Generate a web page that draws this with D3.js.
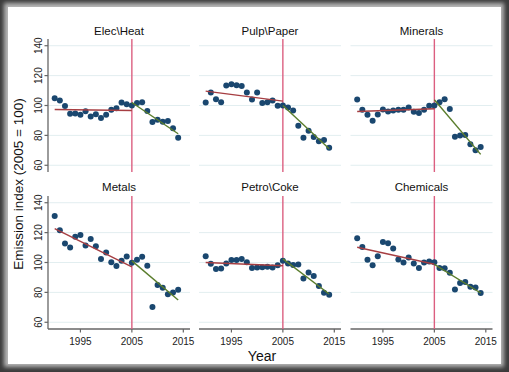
<!DOCTYPE html>
<html>
<head>
<meta charset="utf-8">
<script src="https://cdn.jsdelivr.net/npm/d3@7"></script>
<style>
  body { margin: 0; background: #fff; }
  svg { display: block; font-family: "Liberation Sans", Arial, sans-serif; }
</style>
</head>
<body>
<svg id="chart" width="509" height="372"></svg>
<script>
// data
var years = [1990, 1991, 1992, 1993, 1994, 1995, 1996, 1997, 1998, 1999, 2000, 2001, 2002,
             2003, 2004, 2005, 2006, 2007, 2008, 2009, 2010, 2011, 2012, 2013, 2014];
var sectors = ["Elec\\Heat", "Pulp\\Paper", "Minerals", "Metals", "Petro\\Coke", "Chemicals"];

var elecHeat  = [104.9, 103.3, 99.6, 94.4, 94.7, 93.8, 96.2, 92.7, 94.2, 91.6, 93.8, 97.1, 98.2,
                 102.0, 100.9, 100.0, 101.6, 102.2, 96.4, 88.9, 90.4, 89.1, 89.6, 84.7, 78.4];
var pulpPaper = [102.0, 108.7, 104.2, 102.2, 113.3, 114.2, 113.6, 113.1, 108.7, 104.0, 108.7, 101.6, 102.2,
                 103.3, 99.8, 100.0, 98.7, 96.7, 86.4, 78.4, 83.1, 78.9, 76.0, 76.9, 71.8];
var minerals  = [104.0, 97.1, 93.8, 89.8, 94.0, 97.3, 96.0, 96.7, 97.1, 97.1, 98.7, 95.8, 94.9,
                 97.1, 99.8, 100.0, 102.2, 104.2, 97.6, 79.1, 80.0, 80.2, 74.0, 70.0, 72.2];
var metals    = [131.1, 121.6, 112.7, 110.0, 117.3, 118.4, 111.3, 115.8, 110.9, 102.4, 106.7, 100.2, 97.6,
                 101.1, 104.0, 99.8, 101.8, 103.8, 97.8, 70.2, 84.9, 83.1, 78.7, 80.0, 81.8];
var petroCoke = [104.2, 99.1, 95.6, 96.0, 99.3, 101.6, 101.6, 102.4, 100.2, 96.4, 96.7, 96.9, 97.1,
                 96.7, 98.2, 101.1, 99.3, 98.4, 98.7, 89.3, 93.3, 90.9, 84.2, 79.8, 78.4];
var chemicals = [116.2, 110.4, 101.8, 98.2, 104.2, 113.8, 112.9, 109.3, 102.0, 100.0, 103.3, 99.3, 96.4,
                 100.0, 100.7, 100.2, 96.4, 96.2, 93.1, 82.0, 86.2, 86.9, 83.8, 83.3, 79.6];
var series = [elecHeat, pulpPaper, minerals, metals, petroCoke, chemicals];

// fitted trend lines: value at start and end of each period
var preFit  = [[97.3, 96.7], [109.6, 102.9], [96.0, 97.8], [122.7, 97.1], [100.0, 97.8], [110.2, 98.8]];
var postFit = [[102.0, 81.1], [100.0, 71.1], [103.8, 67.3], [101.1, 74.9], [102.4, 78.9], [98.7, 79.6]];
var preYears = [1990, 2005];
var postYears = [2005, 2014];
var breakYear = 2005;

var yTicks = [60, 80, 100, 120, 140];
var xTicks = [1995, 2005, 2015];

// layout
var svg = d3.select("#chart");
var panelW = 142, panelH = 133;
var colLeft = [48, 199, 350.5];
var rowTop = [39, 196];

// frame with shadow
var defs = svg.append("defs");
var blur = defs.append("filter").attr("id", "soft")
  .attr("x", "-5%").attr("y", "-5%").attr("width", "110%").attr("height", "110%");
blur.append("feGaussianBlur").attr("stdDeviation", 2.2);

svg.append("rect").attr("width", 509).attr("height", 372).attr("fill", "#3b3b3b");
svg.append("rect").attr("x", 4).attr("y", 3).attr("width", 500).attr("height", 364)
  .attr("fill", "#b8b8b8").attr("filter", "url(#soft)");
svg.append("rect").attr("x", 8).attr("y", 7).attr("width", 493).attr("height", 357)
  .attr("fill", "#fff");

var x = d3.scaleLinear().domain([1988.7, 2016.3]).range([0, panelW]);
var y = d3.scaleLinear().domain([55.5, 144.5]).range([panelH, 0]);

sectors.forEach(function (name, i) {
  var row = Math.floor(i / 3), col = i % 3;
  var g = svg.append("g")
    .attr("transform", "translate(" + colLeft[col] + "," + rowTop[row] + ")");

  // gridlines
  g.selectAll(".grid").data(yTicks).enter().append("line")
    .attr("x1", 0).attr("x2", panelW)
    .attr("y1", function (d) { return y(d); })
    .attr("y2", function (d) { return y(d); })
    .attr("stroke", "#e2eef0").attr("stroke-width", 1);

  // title
  g.append("text")
    .attr("x", panelW / 2).attr("y", row === 0 ? -4 : -5)
    .attr("text-anchor", "middle")
    .attr("font-size", 11.5).attr("fill", "#111")
    .text(name);

  // y axis only on left column
  if (col === 0) {
    g.append("line").attr("x1", 0).attr("x2", 0).attr("y1", 0).attr("y2", panelH)
      .attr("stroke", "#666").attr("stroke-width", 1.3);
    g.selectAll(".ytick").data(yTicks).enter().append("line")
      .attr("x1", -3.5).attr("x2", 0)
      .attr("y1", function (d) { return y(d); })
      .attr("y2", function (d) { return y(d); })
      .attr("stroke", "#666").attr("stroke-width", 1.2);
    g.selectAll(".ylab").data(yTicks).enter().append("text")
      .attr("transform", function (d) { return "translate(-6," + y(d) + ") rotate(-90)"; })
      .attr("text-anchor", "middle")
      .attr("font-size", 10).attr("fill", "#222")
      .text(function (d) { return d; });
  }

  // x axis only on bottom row
  if (row === 1) {
    g.append("line").attr("x1", 0).attr("x2", panelW).attr("y1", panelH).attr("y2", panelH)
      .attr("stroke", "#666").attr("stroke-width", 1.3);
    g.selectAll(".xtick").data(xTicks).enter().append("line")
      .attr("x1", function (d) { return x(d); })
      .attr("x2", function (d) { return x(d); })
      .attr("y1", panelH).attr("y2", panelH + 3.5)
      .attr("stroke", "#666").attr("stroke-width", 1.2);
    g.selectAll(".xlab").data(xTicks).enter().append("text")
      .attr("x", function (d) { return x(d); })
      .attr("y", panelH + 16)
      .attr("text-anchor", "middle")
      .attr("font-size", 10).attr("fill", "#222")
      .text(function (d) { return d; });
  }

  // break line
  g.append("line")
    .attr("x1", x(breakYear)).attr("x2", x(breakYear))
    .attr("y1", 0).attr("y2", panelH)
    .attr("stroke", "#dc5f80").attr("stroke-width", 1.4);

  // data points
  var pts = years.map(function (yr, j) { return [yr, series[i][j]]; });
  g.selectAll(".dot").data(pts).enter().append("circle")
    .attr("cx", function (d) { return x(d[0]); })
    .attr("cy", function (d) { return y(d[1]); })
    .attr("r", 3)
    .attr("fill", "#1a476f");

  // fitted lines
  var line = d3.line()
    .x(function (d) { return x(d[0]); })
    .y(function (d) { return y(d[1]); });
  g.append("path")
    .attr("d", line(preYears.map(function (yr, k) { return [yr, preFit[i][k]]; })))
    .attr("stroke", "#a63e42").attr("stroke-width", 1.4).attr("fill", "none");
  g.append("path")
    .attr("d", line(postYears.map(function (yr, k) { return [yr, postFit[i][k]]; })))
    .attr("stroke", "#5a7d2c").attr("stroke-width", 1.4).attr("fill", "none");
});

// axis titles
svg.append("text")
  .attr("transform", "translate(23,184) rotate(-90)")
  .attr("text-anchor", "middle")
  .attr("font-size", 13.5).attr("fill", "#111")
  .text("Emission index (2005 = 100)");

svg.append("text")
  .attr("x", 262).attr("y", 361)
  .attr("text-anchor", "middle")
  .attr("font-size", 14).attr("fill", "#111")
  .text("Year");
</script>
</body>
</html>
